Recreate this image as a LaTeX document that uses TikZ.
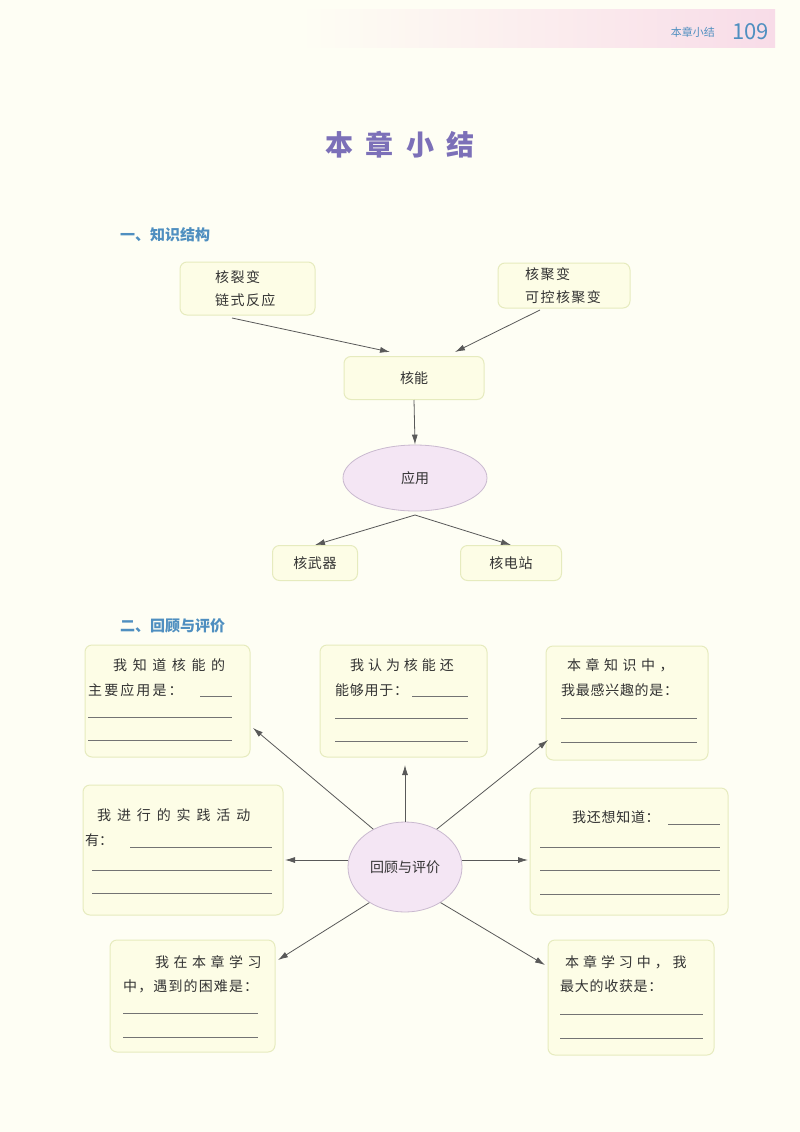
\documentclass[tikz,border=0pt]{standalone}
\usepackage{fontspec}
\setmainfont{Noto Sans CJK SC}
\usetikzlibrary{arrows.meta,shapes.geometric}
\newcommand\ls[2]{{\addfontfeature{LetterSpace=#1}#2}}
\definecolor{bg}{HTML}{FEFEF4}
\definecolor{boxfill}{HTML}{FDFDE6}
\definecolor{boxline}{HTML}{E6EBBE}
\definecolor{ellfill}{HTML}{F4E6F4}
\definecolor{ellline}{HTML}{C9B9CF}
\definecolor{headblue}{HTML}{4F8FC0}
\definecolor{titlepurple}{HTML}{7C70B8}
\definecolor{bandpink}{HTML}{F8DCE8}
\definecolor{txt}{HTML}{333333}
\tikzset{
  x=1pt,y=-1pt,
  card/.style={draw=boxline,line width=1pt,fill=boxfill,rounded corners=7pt},
  ell/.style={ellipse,draw=ellline,fill=ellfill,line width=0.8pt,inner sep=0pt},
  lbl/.style={text=txt,font=\fontsize{14}{16}\selectfont,anchor=base west,inner sep=0pt},
  arr/.style={draw=black!65,line width=0.8pt,-{Latex[length=10pt,width=6pt]}},
  blank/.style={draw=black!55,line width=0.5pt},
  sect/.style={text=headblue,font=\fontsize{15}{17}\selectfont\bfseries,anchor=base west,inner sep=0pt}
}
\begin{document}
\begin{tikzpicture}
\useasboundingbox (0,0) rectangle (800,1132);
\fill[bg] (0,0) rectangle (800,1132);
\shade[left color=bg,right color=bandpink] (300,10) rectangle (775,48);
\node[anchor=base east,text=headblue,font=\fontsize{11}{12}\selectfont,inner sep=0pt] (hd) at (715,37) {本章小结};
\node[anchor=base west,text=headblue,font=\fontsize{22}{24}\selectfont,inner sep=0pt] (pg) at (732,40) {109};
\node[text=titlepurple,font=\fontsize{28}{30}\selectfont\bfseries] (title) at (400,145) {\ls{45}{本章小结}};
\node[sect] (s1) at (120,240) {一、知识结构};
\node[sect] (s2) at (120,631) {二、回顾与评价};

% part 1
\draw[card] (180,262) rectangle (315,315);
\node[lbl] (a1) at (215,282) {\ls{10}{核裂变}};
\node[lbl] (a2) at (215,305) {\ls{10}{链式反应}};
\draw[card] (498,263) rectangle (630,308);
\node[lbl] (b1) at (525,279) {\ls{10}{核聚变}};
\node[lbl] (b2) at (525,302) {\ls{10}{可控核聚变}};
\node[card,minimum width=140pt,minimum height=43pt,text=txt,font=\fontsize{14}{16}\selectfont] (he) at (414,378) {核能};
\node[ell,minimum width=144pt,minimum height=66pt,text=txt,font=\fontsize{14}{16}\selectfont] (yy) at (415,478) {应用};
\node[card,minimum width=85pt,minimum height=35pt,text=txt,font=\fontsize{14}{16}\selectfont] (wq) at (315,563) {\ls{5}{核武器}};
\node[card,minimum width=101pt,minimum height=35pt,text=txt,font=\fontsize{14}{16}\selectfont] (dz) at (511,563) {\ls{5}{核电站}};
\coordinate (fisb) at (232,318);
\coordinate (fusb) at (540,310);
\draw[arr] (fisb) -- (390,352);
\draw[arr] (fusb) -- (455,352);
\draw[arr] (he.south) -- (yy.north);
\coordinate (yb) at (415,515);
\draw[arr] (yb) -- (wq.north);
\draw[arr] (yb) -- (dz.north);

% part 2
\node[ell,minimum width=114pt,minimum height=90pt,text=txt,font=\fontsize{14}{16}\selectfont] (hg) at (405,867) {回顾与评价};

\node[card,minimum width=165pt,minimum height=112pt] (B1) at (167.5,701) {};
\node[lbl] (t11) at (113,670) {\ls{40}{我知道核能的}};
\node[lbl] (t12) at (88,695) {\ls{15}{主要应用是：}};
\draw[blank] (200,696) -- (232,696); \draw[blank] (88,717) -- (232,717); \draw[blank] (88,740) -- (232,740);

\node[card,minimum width=167pt,minimum height=112pt] (B2) at (403.5,701) {};
\node[lbl] (t21) at (350,670) {\ls{28}{我认为核能还}};
\node[lbl] (t22) at (335,695) {\ls{5}{能够用于：}};
\draw[blank] (412,696) -- (468,696); \draw[blank] (335,718) -- (468,718); \draw[blank] (335,741) -- (468,741);

\node[card,minimum width=162pt,minimum height=114pt] (B3) at (627,703) {};
\node[lbl] (t31) at (567,670) {\ls{32}{本章知识中，}};
\node[lbl] (t32) at (561,695) {\ls{5}{我最感兴趣的是：}};
\draw[blank] (561,718) -- (697,718); \draw[blank] (561,742) -- (697,742);

\node[card,minimum width=200pt,minimum height=130pt] (B4) at (183,850) {};
\node[lbl] (t41) at (97,820) {\ls{42}{我进行的实践活动}};
\node[lbl] (t42) at (85,845) {有：};
\draw[blank] (130,847) -- (272,847); \draw[blank] (92,870) -- (272,870); \draw[blank] (92,893) -- (272,893);

\node[card,minimum width=198pt,minimum height=127pt] (B5) at (629,851.5) {};
\node[lbl] (t51) at (572,822) {\ls{5}{我还想知道：}};
\draw[blank] (668,824) -- (720,824); \draw[blank] (540,847) -- (720,847); \draw[blank] (540,870) -- (720,870); \draw[blank] (540,894) -- (720,894);

\node[card,minimum width=165pt,minimum height=112pt] (B6) at (192.5,996) {};
\node[lbl] (t61) at (155,967) {\ls{32}{我在本章学习}};
\node[lbl] (t62) at (123,991) {\ls{8}{中，遇到的困难是：}};
\draw[blank] (123,1013) -- (258,1013); \draw[blank] (123,1037) -- (258,1037);

\node[card,minimum width=166pt,minimum height=115pt] (B7) at (631,997.5) {};
\node[lbl] (t71) at (565,967) {\ls{28}{本章学习中，我}};
\node[lbl] (t72) at (560,991) {\ls{5}{最大的收获是：}};
\draw[blank] (560,1014) -- (703,1014); \draw[blank] (560,1038) -- (703,1038);

\coordinate (lt) at (285,860);
\coordinate (rt) at (528,860);
\draw[arr] (hg.130) -- (253,728);
\draw[arr] (hg.north) -- (405,765);
\draw[arr] (hg.50) -- (548,740);
\draw[arr] (hg.west |- lt) -- (lt);
\draw[arr] (hg.east |- rt) -- (rt);
\draw[arr] (hg.225) -- (278,960);
\draw[arr] (hg.-45) -- (545,965);
\end{tikzpicture}
\end{document}
